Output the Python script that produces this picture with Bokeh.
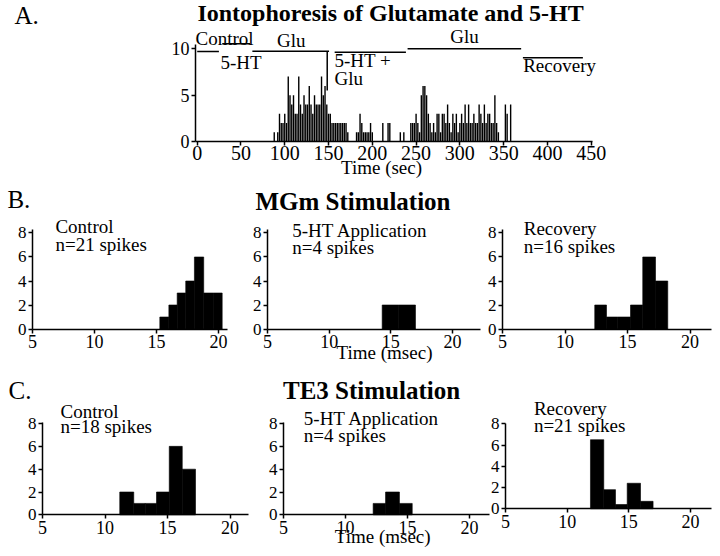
from bokeh.plotting import figure
from bokeh.models import Label, FixedTicker
from bokeh.layouts import column, row
from bokeh.embed import file_html
from bokeh.resources import INLINE

# ---------------- data ----------------
# Panel A: spike counts per 2-s bin (bin centre in s, count)
a_bins = [(88, 1), (92, 1), (94, 3), (96, 2), (98, 2), (100, 3), (102, 2), (104, 7),
          (106, 5), (108, 4), (110, 5), (112, 3), (114, 3), (116, 7), (118, 4), (120, 3),
          (122, 5), (124, 4), (126, 4), (128, 6), (130, 4), (132, 3), (134, 5), (136, 4),
          (138, 4), (140, 4), (142, 7), (144, 5), (146, 6), (148, 4), (150, 3), (152, 3),
          (154, 2), (156, 2), (158, 2), (160, 2), (162, 2), (164, 2), (166, 2), (168, 2),
          (170, 2), (172, 1), (182, 1), (184, 1), (186, 3), (188, 2), (190, 1), (192, 1),
          (194, 1), (196, 1), (198, 2), (200, 1), (212, 2), (218, 2), (220, 2), (232, 1),
          (236, 1), (244, 2), (246, 2), (248, 2), (250, 3), (252, 2), (254, 1), (256, 5),
          (258, 6), (260, 6), (262, 5), (264, 3), (266, 2), (268, 1), (270, 2), (272, 1),
          (274, 3), (276, 3), (278, 1), (280, 3), (282, 3), (284, 2), (286, 4), (288, 2),
          (290, 1), (292, 3), (294, 2), (296, 3), (298, 1), (300, 2), (302, 3), (304, 2),
          (306, 4), (308, 2), (310, 4), (312, 2), (314, 2), (316, 3), (318, 2), (320, 2),
          (322, 4), (324, 3), (326, 2), (328, 4), (330, 2), (332, 3), (334, 3), (336, 2),
          (338, 2), (340, 5), (342, 2), (344, 1), (352, 4), (354, 3), (358, 4)]
a_time = [b[0] for b in a_bins]
a_count = [b[1] for b in a_bins]

a_xticks = [0, 50, 100, 150, 200, 250, 300, 350, 400, 450]
a_yticks = [0, 5, 10]

# drug application epochs (s)
epoch_start = [0, 28.6, 63, 157, 240.3, 372]
epoch_end = [24.8, 60.3, 150.6, 238.4, 370, 440.5]
marker_time = 148.5

hist_xticks = [5, 10, 15, 20]
hist_yticks = [0, 2, 4, 6, 8]

# Panel B (MGm stimulation) latency histograms: bin edges (ms) and counts
b1_edges = [15.27, 16.0, 16.67, 17.36, 18.06, 18.81, 19.57, 20.3]
b1_counts = [1, 2, 3, 4, 6, 3, 3]
b2_edges = [14.3, 15.65, 17.0]
b2_counts = [2, 2]
b3_edges = [12.38, 13.32, 14.18, 15.24, 16.22, 17.24, 18.22]
b3_counts = [2, 1, 1, 2, 6, 4]

# Panel C (TE3 stimulation)
c1_edges = [11.18, 12.3, 13.22, 14.12, 15.14, 16.18, 17.24]
c1_counts = [2, 1, 1, 2, 6, 4]
c2_edges = [12.23, 13.23, 14.35, 15.38]
c2_counts = [1, 2, 1]
c3_edges = [11.89, 12.97, 13.92, 14.87, 15.95, 16.97]
c3_counts = [6.5, 1.8, 0.4, 2.4, 0.7]

FONT = "Liberation Serif"


def make(width, height, x_range, y_range, x_bounds, y_bounds, xticks, yticks, xfs, yfs):
    p = figure(width=width, height=height, x_range=x_range, y_range=y_range,
               output_backend="svg", toolbar_location=None, title=None, min_border=0)
    p.xgrid.visible = False
    p.ygrid.visible = False
    p.outline_line_color = None
    p.background_fill_color = "white"
    p.border_fill_color = "white"
    for ax, fs in ((p.xaxis[0], xfs), (p.yaxis[0], yfs)):
        ax.axis_line_color = "black"
        ax.axis_line_width = 1.5
        ax.major_tick_line_color = "black"
        ax.major_tick_line_width = 1.5
        ax.major_tick_in = 0
        ax.major_tick_out = 4
        ax.minor_tick_line_color = None
        ax.major_label_text_font = FONT
        ax.major_label_text_font_size = fs
        ax.major_label_text_color = "black"
        ax.major_label_standoff = 2
    p.xaxis[0].ticker = FixedTicker(ticks=xticks)
    p.yaxis[0].ticker = FixedTicker(ticks=yticks)
    p.xaxis[0].fixed_location = 0
    p.yaxis[0].fixed_location = x_bounds[0]
    p.xaxis[0].bounds = x_bounds
    p.yaxis[0].bounds = y_bounds
    return p


def lab(p, x, y, text, size="19px", align="left", bold=False):
    p.add_layout(Label(x=x, y=y, text=text, text_font=FONT, text_font_size=size,
                       text_align=align, text_baseline="alphabetic", text_color="black",
                       text_font_style="bold" if bold else "normal"))


# ---------------- Panel A ----------------
pa = make(712, 178, (-224.66, 588.55), (-3.99, 15.21), (-2, 451), (0, 10.5),
          a_xticks, a_yticks, "20px", "18px")
pa.xaxis[0].major_label_standoff = 0
pa.vbar(x=a_time, top=a_count, width=1.6, bottom=0, fill_color="black", line_color=None)

epoch_y = [9.71, 10.54, 9.74, 9.63, 10.0, 9.03]
pa.segment(x0=epoch_start, x1=epoch_end, y0=epoch_y, y1=epoch_y, line_color="black", line_width=1.5)
pa.segment(x0=[marker_time], x1=[marker_time], y0=[5.5], y1=[9.74], line_color="black", line_width=1.5)

lab(pa, -1.9, 11.12, "Control")
lab(pa, 26.6, 8.50, "5-HT")
lab(pa, 107.4, 10.87, "Glu", align="center")
lab(pa, 156.8, 8.78, "5-HT +")
lab(pa, 156.8, 6.80, "Glu")
lab(pa, 305.3, 11.30, "Glu", align="center")
lab(pa, 372.3, 8.24, "Recovery")
lab(pa, 210.5, -2.81, "Time (sec)", align="center")
lab(pa, 220.8, 13.85, "Iontophoresis of Glutamate and 5-HT", size="24px", align="center", bold=True)
lab(pa, -208.7, 13.55, "A.", size="25px")


def hist(width, height, x_range, y_range, x_bounds, y_bounds, edges, counts):
    p = make(width, height, x_range, y_range, x_bounds, y_bounds,
             hist_xticks, hist_yticks, "18px", "17px")
    p.quad(left=edges[:-1], right=edges[1:], top=counts, bottom=0,
           fill_color="black", line_color="black", line_width=0.6)
    return p


# ---------------- Panel B ----------------
b1 = hist(244, 190, (2.42, 22.1), (-3.29, 12.54), (5, 20.7), (0, 8.25), b1_edges, b1_counts)
b2 = hist(242, 190, (3.135, 22.76), (-3.29, 12.54), (5, 22.3), (0, 8.25), b2_edges, b2_counts)
b3 = hist(226, 190, (3.72, 21.8), (-3.29, 12.54), (5, 21.7), (0, 8.25), b3_edges, b3_counts)

lab(b1, 2.98, 10.75, "B.", size="25px")
lab(b1, 6.85, 8.54, "Control")
lab(b1, 6.85, 7.06, "n=21 spikes")
lab(b2, 11.93, 10.6, "MGm Stimulation", size="25px", align="center", bold=True)
lab(b2, 7.0, 8.23, "5-HT Application")
lab(b2, 7.0, 6.79, "n=4 spikes")
lab(b2, 14.49, -1.96, "Time (msec)", align="center")
lab(b3, 6.70, 8.37, "Recovery")
lab(b3, 6.70, 6.90, "n=16 spikes")

# ---------------- Panel C ----------------
c1 = hist(262, 180, (1.64, 22.6), (-2.95, 12.82), (5, 21.5), (0, 8.05), c1_edges, c1_counts)
c2 = hist(228, 180, (3.31, 21.69), (-2.95, 12.82), (5, 21.6), (0, 8.05), c2_edges, c2_counts)
c3 = hist(222, 180, (3.78, 21.79), (-3.74, 13.2), (5, 21.7), (0, 8.05), c3_edges, c3_counts)

lab(c1, 2.28, 10.85, "C.", size="25px")
lab(c1, 6.44, 9.02, "Control")
lab(c1, 6.44, 7.71, "n=18 spikes")
lab(c2, 12.1, 10.85, "TE3 Stimulation", size="25px", align="center", bold=True)
lab(c2, 6.64, 8.44, "5-HT Application")
lab(c2, 6.64, 6.97, "n=4 spikes")
lab(c2, 13.19, -1.92, "Time  (msec)", align="center")
lab(c3, 7.3, 9.44, "Recovery")
lab(c3, 7.3, 7.87, "n=21 spikes")

layout = column(pa, row(b1, b2, b3), row(c1, c2, c3))
open("out.html", "w").write(file_html(layout, INLINE))
